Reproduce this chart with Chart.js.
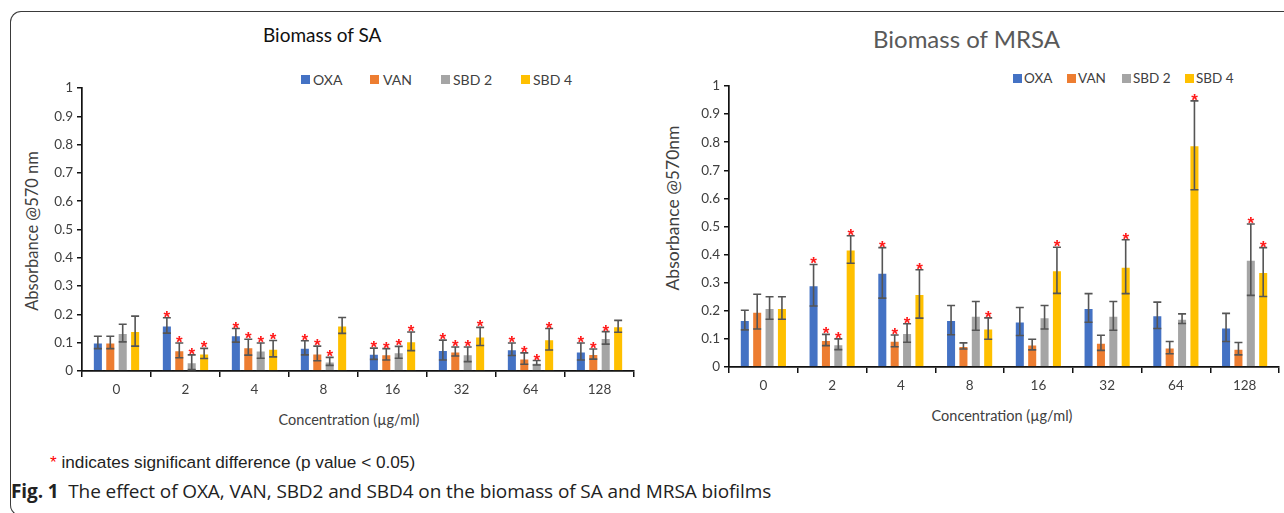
<!DOCTYPE html>
<html>
<head>
<meta charset="utf-8">
<script src="https://cdn.jsdelivr.net/npm/chart.js@4.4.1/dist/chart.umd.min.js"></script>
<style>
  html, body { margin:0; padding:0; background:#fff; }
  body { width:1284px; height:513px; position:relative; overflow:hidden; font-family:Lato, sans-serif; }
  .abs { position:absolute; white-space:nowrap; }
  canvas { position:absolute; }
  .frame { position:absolute; left:10px; top:11px; width:1320px; height:503px; border-left:1.3px solid #3a3a3a; border-top:1.3px solid #3a3a3a; border-bottom:1.3px solid #3a3a3a; border-radius:11px 0 0 11px; }
  .sw { position:absolute; width:9px; height:9px; }
  .lg { position:absolute; color:#404040; }
</style>
</head>
<body>
<div class="frame"></div>

<div class="abs" style="left:263px;top:23px;font-size:19px;color:#111;">Biomass of SA</div>
<div class="abs" style="left:873px;top:24px;font-size:24px;color:#595959;">Biomass of MRSA</div>

<div id="legSA"></div>
<div id="legMR"></div>

<div class="abs" style="left:32px;top:231px;font-size:16.5px;color:#404040;transform:translate(-50%,-50%) rotate(-90deg);">Absorbance @570 nm</div>
<div class="abs" style="left:672px;top:208px;font-size:17.5px;color:#404040;transform:translate(-50%,-50%) rotate(-90deg);">Absorbance @570nm</div>

<div class="abs" style="left:349px;top:419px;font-size:14.5px;color:#404040;transform:translate(-50%,-50%);">Concentration (µg/ml)</div>
<div class="abs" style="left:1002px;top:415px;font-size:14.5px;color:#404040;transform:translate(-50%,-50%);">Concentration (µg/ml)</div>

<div class="abs" style="left:50px;top:452px;font-family:'Liberation Sans',Arial,sans-serif;font-size:17.2px;color:#222;"><span style="color:#ff0000;">*</span> indicates significant difference (p value &lt; 0.05)</div>
<div class="abs" style="left:11px;top:478px;font-family:'Open Sans',sans-serif;font-size:19px;color:#222;letter-spacing:-0.1px;"><b>Fig. 1</b>&nbsp; The effect of OXA, VAN, SBD2 and SBD4 on the biomass of SA and MRSA biofilms</div>

<canvas id="cSA" width="640" height="340" style="left:0px;top:60px;width:640px;height:340px;"></canvas>
<canvas id="cMR" width="644" height="340" style="left:640px;top:60px;width:644px;height:340px;"></canvas>

<script>
// ---- data ----
const categories = ['0', '2', '4', '8', '16', '32', '64', '128'];
const seriesNames = ['OXA', 'VAN', 'SBD 2', 'SBD 4'];
const seriesColors = ['#4472C4', '#ED7D31', '#A5A5A5', '#FFC000'];
const yTickLabels = ['0', '0.1', '0.2', '0.3', '0.4', '0.5', '0.6', '0.7', '0.8', '0.9', '1'];

// Biomass of SA
const saOXA  = [0.101, 0.161, 0.126, 0.082, 0.061, 0.074, 0.077, 0.069];
const saVAN  = [0.101, 0.073, 0.084, 0.062, 0.059, 0.069, 0.044, 0.060];
const saSBD2 = [0.134, 0.031, 0.072, 0.034, 0.066, 0.059, 0.029, 0.117];
const saSBD4 = [0.141, 0.062, 0.079, 0.161, 0.105, 0.122, 0.112, 0.158];
const saOXAErr  = [0.022, 0.027, 0.024, 0.025, 0.020, 0.035, 0.022, 0.030];
const saVANErr  = [0.022, 0.026, 0.028, 0.026, 0.020, 0.016, 0.020, 0.018];
const saSBD2Err = [0.031, 0.026, 0.027, 0.014, 0.021, 0.026, 0.008, 0.022];
const saSBD4Err = [0.053, 0.018, 0.029, 0.028, 0.033, 0.032, 0.038, 0.021];
const saOXASig  = [0, 1, 1, 1, 1, 1, 1, 1];
const saVANSig  = [0, 1, 1, 1, 1, 1, 1, 1];
const saSBD2Sig = [0, 1, 1, 1, 1, 1, 1, 1];
const saSBD4Sig = [0, 1, 1, 0, 1, 1, 1, 0];

// Biomass of MRSA
const mrOXA  = [0.167, 0.291, 0.335, 0.167, 0.162, 0.210, 0.184, 0.141];
const mrVAN  = [0.197, 0.096, 0.093, 0.075, 0.080, 0.086, 0.069, 0.065];
const mrSBD2 = [0.210, 0.081, 0.121, 0.182, 0.177, 0.182, 0.172, 0.382];
const mrSBD4 = [0.210, 0.418, 0.260, 0.137, 0.344, 0.357, 0.789, 0.338];
const mrOXAErr  = [0.035, 0.074, 0.090, 0.052, 0.050, 0.051, 0.047, 0.050];
const mrVANErr  = [0.062, 0.020, 0.021, 0.011, 0.019, 0.027, 0.022, 0.022];
const mrSBD2Err = [0.040, 0.019, 0.033, 0.051, 0.042, 0.051, 0.017, 0.127];
const mrSBD4Err = [0.040, 0.049, 0.086, 0.038, 0.082, 0.096, 0.158, 0.087];
const mrOXASig  = [0, 1, 1, 0, 0, 0, 0, 0];
const mrVANSig  = [0, 1, 1, 0, 0, 0, 0, 0];
const mrSBD2Sig = [0, 1, 1, 0, 0, 0, 0, 1];
const mrSBD4Sig = [0, 1, 1, 1, 1, 1, 1, 1];

// ---- legends (HTML text) ----
function buildLegend(id, swX, txX, y, size) {
  const host = document.getElementById(id);
  seriesNames.forEach((n, i) => {
    const s = document.createElement('div');
    s.className = 'sw';
    s.style.left = swX[i] + 'px'; s.style.top = (y - 4.5) + 'px'; s.style.background = seriesColors[i];
    host.appendChild(s);
    const t = document.createElement('div');
    t.className = 'lg abs';
    t.style.left = txX[i] + 'px'; t.style.top = y + 'px'; t.style.fontSize = size + 'px';
    t.style.transform = 'translateY(-50%)';
    t.textContent = n;
    host.appendChild(t);
  });
}
buildLegend('legSA', [301, 370, 441, 521], [313, 383, 453, 533], 79, 14);
buildLegend('legMR', [1013, 1067, 1122, 1185], [1024, 1078, 1133, 1196], 78, 13.5);

// ---- error bars + significance stars ----
const errorBarPlugin = {
  id: 'errbars',
  afterDatasetsDraw(chart) {
    const ctx = chart.ctx;
    const ys = chart.scales.y;
    chart.data.datasets.forEach((ds, i) => {
      const meta = chart.getDatasetMeta(i);
      meta.data.forEach((bar, j) => {
        const v = ds.data[j], e = ds.errors[j];
        const yt = ys.getPixelForValue(v + e), yb = ys.getPixelForValue(v - e);
        const x = bar.x;
        ctx.save();
        ctx.strokeStyle = '#555555';
        ctx.lineWidth = 1.6;
        ctx.beginPath();
        ctx.moveTo(x, yt); ctx.lineTo(x, yb);
        ctx.moveTo(x - 4, yt); ctx.lineTo(x + 4, yt);
        ctx.moveTo(x - 4, yb); ctx.lineTo(x + 4, yb);
        ctx.stroke();
        if (ds.sig[j]) {
          ctx.fillStyle = '#ff1a1a';
          ctx.font = 'bold 17px "Liberation Sans", Arial, sans-serif';
          ctx.textAlign = 'center';
          ctx.textBaseline = 'alphabetic';
          ctx.fillText('*', x, yt + 5);
        }
        ctx.restore();
      });
    });
  }
};

function makeChart(id, vals, errs, sigs, cfg) {
  const datasets = seriesNames.map((n, i) => ({
    label: n,
    data: vals[i],
    errors: errs[i],
    sig: sigs[i],
    backgroundColor: seriesColors[i],
    borderColor: 'rgba(255,255,255,0.55)',
    borderWidth: 1,
    barPercentage: 0.81,
    categoryPercentage: 0.72
  }));
  return new Chart(document.getElementById(id), {
    type: 'bar',
    data: { labels: categories, datasets },
    options: {
      responsive: false,
      animation: false,
      devicePixelRatio: 1,
      layout: { padding: { left: 0, right: cfg.padR, top: cfg.padT, bottom: 0 } },
      plugins: { legend: { display: false }, tooltip: { enabled: false } },
      scales: {
        x: {
          grid: { display: true, drawOnChartArea: false, drawTicks: true, tickLength: 6, color: '#111', lineWidth: 1.5, offset: true },
          border: { display: true, color: '#111', width: 1.7 },
          ticks: { color: '#404040', font: { family: 'Lato', size: 13.5 }, padding: 5, maxRotation: 0 },
          afterFit: s => { s.height = cfg.xH; }
        },
        y: {
          min: 0, max: 1,
          grid: { display: true, drawOnChartArea: false, drawTicks: true, tickLength: 5, color: '#111', lineWidth: 1.5 },
          border: { display: true, color: '#111', width: 1.7 },
          ticks: { stepSize: 0.1, color: '#404040', font: { family: 'Lato', size: 13.5 }, padding: 4,
                   callback: (v, i) => yTickLabels[i] },
          afterFit: s => { s.width = cfg.yW; }
        }
      }
    },
    plugins: [errorBarPlugin]
  });
}

function draw() {
  makeChart('cSA',
    [saOXA, saVAN, saSBD2, saSBD4],
    [saOXAErr, saVANErr, saSBD2Err, saSBD4Err],
    [saOXASig, saVANSig, saSBD2Sig, saSBD4Sig],
    { padR: 6, padT: 28, xH: 29, yW: 82 });
  makeChart('cMR',
    [mrOXA, mrVAN, mrSBD2, mrSBD4],
    [mrOXAErr, mrVANErr, mrSBD2Err, mrSBD4Err],
    [mrOXASig, mrVANSig, mrSBD2Sig, mrSBD4Sig],
    { padR: 5, padT: 26, xH: 33, yW: 89 });
}
if (document.fonts && document.fonts.load) {
  Promise.all([document.fonts.load('13px Lato'), document.fonts.load('15px "Liberation Sans"'), document.fonts.load('19px "Open Sans"')]).then(draw, draw);
} else { draw(); }
</script>
</body>
</html>
